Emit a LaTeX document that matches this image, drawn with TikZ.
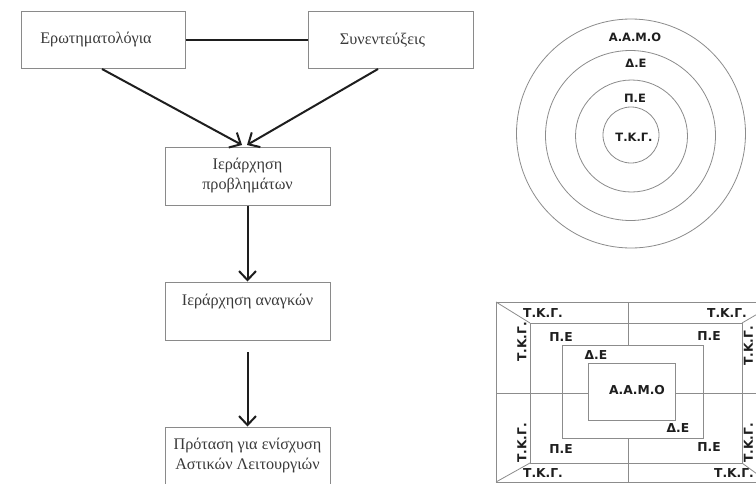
\documentclass[tikz,border=0pt]{standalone}
\usepackage{fontspec}
\setmainfont{Liberation Serif}
\newfontfamily\lblfont{DejaVu Sans}
\usetikzlibrary{arrows.meta,calc}
\definecolor{boxline}{HTML}{8A8A8A}
\definecolor{thinline}{HTML}{8C8C8C}
\definecolor{txtgray}{HTML}{3A3A3A}
\definecolor{arrowdark}{HTML}{1E1E1E}
\tikzset{
  flowbox/.style={draw=boxline, line width=1pt, rectangle, inner sep=0pt,
    minimum width=165pt, minimum height=57pt, text=txtgray, align=center,
    font=\fontsize{16.2}{20}\selectfont},
  thickconn/.style={draw=arrowdark, line width=2pt},
  flowarrow/.style={thickconn, -{Straight Barb[length=9pt,width=17pt,line width=2pt]}},
  ringline/.style={draw=thinline, line width=0.8pt},
  ringlabel/.style={inner sep=0pt, text=arrowdark, font=\lblfont\bfseries\fontsize{11.5}{12}\selectfont},
  sqlabel/.style={inner sep=0pt, text=arrowdark, font=\lblfont\bfseries\fontsize{12.3}{13}\selectfont}
}
\begin{document}
\begin{tikzpicture}[x=1pt,y=-1pt]
\useasboundingbox (0,0) rectangle (756,483);
\fill[white] (0,0) rectangle (756,483);

% ---------- flowchart ----------
\node[flowbox, minimum width=164pt] (q1) at (103,40) {Ερωτηματολόγια\hspace*{14pt}};
\node[flowbox] (q2) at (390.5,40) {Συνεντεύξεις\hspace*{16pt}};
\node[flowbox, minimum height=58pt] (p1) at (247.5,176) {Ιεράρχηση\\προβλημάτων};
\node[flowbox, minimum height=58pt] (p2) at (247.5,311) {Ιεράρχηση αναγκών\\[-4pt]\strut};
\node[flowbox, minimum height=58pt] (p3) at (247.5,456) {Πρόταση για ενίσχυση\\Αστικών Λειτουργιών};

\coordinate (s1) at (102,69);
\coordinate (s2) at (378,69);
\coordinate (t1) at (242,145);
\coordinate (t2) at (247,145);
\coordinate (s4) at (247.5,352);

\draw[thickconn] (q1) -- (q2);
\draw[flowarrow] (s1) -- (t1);
\draw[flowarrow] (s2) -- (t2);
\draw[flowarrow] (p1.south) -- (p2.north);
\draw[flowarrow] (s4) -- (p3.north);

% ---------- concentric circles ----------
\draw[ringline] (631,133.5) circle (114.5);
\draw[ringline] (630.5,135.5) circle (85);
\draw[ringline] (631.5,136) circle (56);
\draw[ringline] (631,135) circle (28);
\node[ringlabel] (c1) at (635,37) {Α.Α.Μ.Ο};
\node[ringlabel] (c2) at (636,63) {Δ.Ε};
\node[ringlabel] (c3) at (635,98) {Π.Ε};
\node[ringlabel] (c4) at (634,137) {Τ.Κ.Γ.};

% ---------- square diagram ----------
\begin{scope}
\clip (0,0) rectangle (756,483);
\draw[ringline] (496,302) rectangle (774,482);
\draw[ringline] (530,323) rectangle (742,463);
\draw[ringline] (562,345) rectangle (703,438);
\draw[ringline] (588,363) rectangle (675,420);
\draw[ringline] (496,302) -- (530,323);
\draw[ringline] (496,482) -- (530,463);
\draw[ringline] (742,323) -- (778,302);
\draw[ringline] (742,463) -- (768,482);
\draw[ringline] (628,302) -- (628,345);
\draw[ringline] (628,438) -- (628,482);
\draw[ringline] (496,393) -- (588,393);
\draw[ringline] (675,393) -- (774,393);
\end{scope}

\node[sqlabel] (k1) at (543,313) {Τ.Κ.Γ.};
\node[sqlabel] (k2) at (727,313) {Τ.Κ.Γ.};
\node[sqlabel] (k3) at (543,473) {Τ.Κ.Γ.};
\node[sqlabel] (k4) at (734,473) {Τ.Κ.Γ.};
\node[sqlabel, rotate=90] (k5) at (522,342) {Τ.Κ.Γ.};
\node[sqlabel, rotate=90] (k6) at (522,443) {Τ.Κ.Γ.};
\node[sqlabel, rotate=90] (k7) at (748.5,346) {Τ.Κ.Γ.};
\node[sqlabel, rotate=90] (k8) at (748.5,443) {Τ.Κ.Γ.};
\node[sqlabel] (e1) at (561,337) {Π.Ε};
\node[sqlabel] (e2) at (561,449) {Π.Ε};
\node[sqlabel] (e3) at (709,336) {Π.Ε};
\node[sqlabel] (e4) at (709,447) {Π.Ε};
\node[sqlabel] (d1) at (596,355) {Δ.Ε};
\node[sqlabel] (d2) at (678,428) {Δ.Ε};
\node[sqlabel] (a1) at (637,390) {Α.Α.Μ.Ο};
\end{tikzpicture}
\end{document}
